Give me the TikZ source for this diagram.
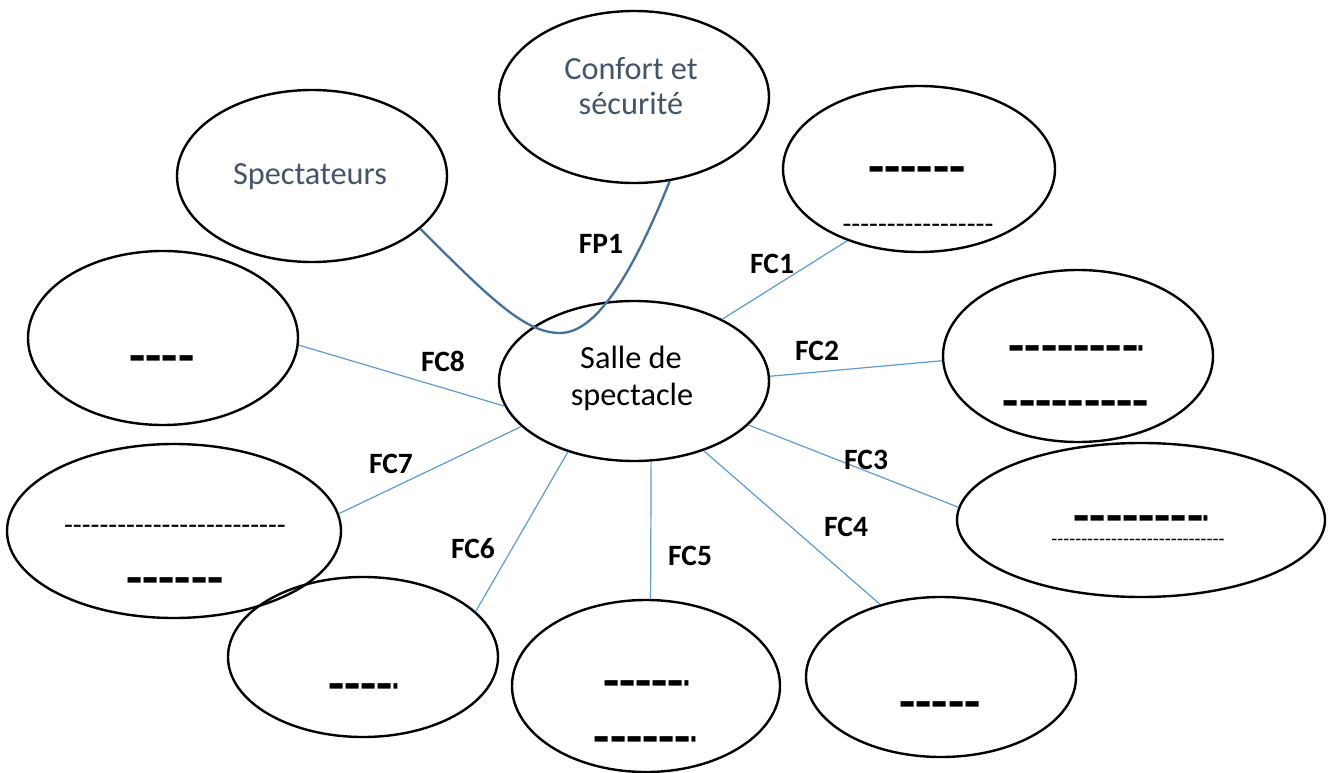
\documentclass[tikz,border=0pt]{standalone}
\usepackage{fontspec}
\setmainfont{Carlito}
\usepackage{graphicx}
\usetikzlibrary{shapes.geometric}
\definecolor{txtblue}{HTML}{44546A}
\definecolor{lnblue}{HTML}{5B9BD5}
\definecolor{fpblue}{HTML}{41719C}
\newcommand\dashrow[1]{\foreach\k in {1,...,#1}{-\kern0pt}}
\newcommand\shortdash{\scalebox{0.3}[1]{-}}
\tikzset{
  ell/.style={draw=black, line width=2.4pt, ellipse, inner sep=0pt},
  conn/.style={draw=lnblue, line width=1.2pt},
  fpline/.style={draw=fpblue, line width=2.3pt},
  lab/.style={font=\fontsize{29.5}{35}\selectfont\bfseries, inner sep=0pt, anchor=base},
  maintxt/.style={font=\fontsize{32.3}{38}\selectfont, inner sep=0pt, anchor=base},
  bdash/.style={font=\fontsize{53}{60}\selectfont\bfseries, inner sep=0pt, anchor=base, yshift=-14.5pt},
  tdash/.style={font=\fontsize{29}{34}\selectfont, inner sep=0pt, anchor=base, yshift=-8pt},
  sdash/.style={font=\fontsize{19.5}{24}\selectfont, inner sep=0pt, anchor=base, yshift=-5.5pt}
}
\begin{document}
\begin{tikzpicture}[x=1pt, y=-1pt]
\useasboundingbox (0,0) rectangle (1331,773);
% ellipses
\node[ell, minimum width=270pt, minimum height=172pt] (conf) at (634,97) {};
\node[ell, minimum width=270pt, minimum height=172pt] (spec) at (312,176) {};
\node[ell, minimum width=272pt, minimum height=166pt] (e1) at (919,169) {};
\node[ell, minimum width=270pt, minimum height=172pt] (e2) at (1078,356) {};
\node[ell, minimum width=368pt, minimum height=154pt] (e3) at (1141,520) {};
\node[ell, minimum width=270pt, minimum height=160pt] (e4) at (941,677) {};
\node[ell, minimum width=268pt, minimum height=172pt] (e5) at (646,686) {};
\node[ell, minimum width=270pt, minimum height=160pt] (e6) at (363,657) {};
\node[ell, minimum width=334pt, minimum height=174pt] (e7) at (174,531) {};
\node[ell, minimum width=270pt, minimum height=174pt] (e8) at (163,338) {};
\node[ell, minimum width=270pt, minimum height=160pt] (salle) at (634,381) {};
% main texts
\node[maintxt, text=txtblue] (confa) at (631,80) {Confort et};
\node[maintxt, text=txtblue] (confb) at (631,115) {sécurité};
\node[maintxt, text=txtblue] (spect) at (310,184) {Spectateurs};
\node[maintxt] (sallea) at (631,368) {Salle de};
\node[maintxt] (salleb) at (632,405) {spectacle};
% FP1 curve
\coordinate (fpbot) at (560,333);
\draw[fpline] (spec.-26.6) .. controls +(70,70) and +(-35,0) .. (fpbot)
  .. controls +(30,0) and +(-45,112) .. (conf.-67.3);
% connectors
\draw[conn] (salle.35.3) -- (e1.225);
\draw[conn] (salle.2.5) -- (e2.182.5);
\draw[conn] (salle.-21.2) -- (e3.176.9);
\draw[conn] (salle.-45) -- (e4.130.9);
\draw[conn] (salle.-78.2) -- (e5.87.9);
\draw[conn] (salle.-133.1) -- (e6.22.8);
\draw[conn] (salle.-158) -- (e7.6.2);
\draw[conn] (salle.-169.8) -- (e8.-3.8);
% labels
\node[lab] (fp1) at (601,253) {FP1};
\node[lab] (fc1) at (772,273) {FC1};
\node[lab] (fc2) at (817,360) {FC2};
\node[lab] (fc3) at (866,469) {FC3};
\node[lab] (fc4) at (846,536) {FC4};
\node[lab] (fc5) at (690,565) {FC5};
\node[lab] (fc6) at (473,558) {FC6};
\node[lab] (fc7) at (391,473) {FC7};
\node[lab] (fc8) at (443,371) {FC8};
% dashes (positions give the bar height)
\node[bdash] (d1a) at (917,170) {\dashrow{6}};
\node[tdash] (d1b) at (918,225) {\dashrow{17}};
\node[bdash] (d2a) at (1076,349) {\dashrow{8}\shortdash};
\node[bdash] (d2b) at (1076,404) {\dashrow{9}};
\node[bdash] (d3a) at (1141,519) {\dashrow{8}\shortdash};
\node[sdash] (d3b) at (1138,540) {\dashrow{29}};
\node[bdash] (d4) at (940,705) {\dashrow{5}};
\node[bdash] (d5a) at (646,684) {\dashrow{5}\shortdash};
\node[bdash] (d5b) at (645,740) {\dashrow{6}\shortdash};
\node[bdash] (d6) at (363,687) {\dashrow{4}\shortdash};
\node[tdash] (d7a) at (175,526) {\dashrow{25}};
\node[bdash] (d7b) at (175,581) {\dashrow{6}};
\node[bdash] (d8) at (162,359) {\dashrow{4}};
\end{tikzpicture}
\end{document}
